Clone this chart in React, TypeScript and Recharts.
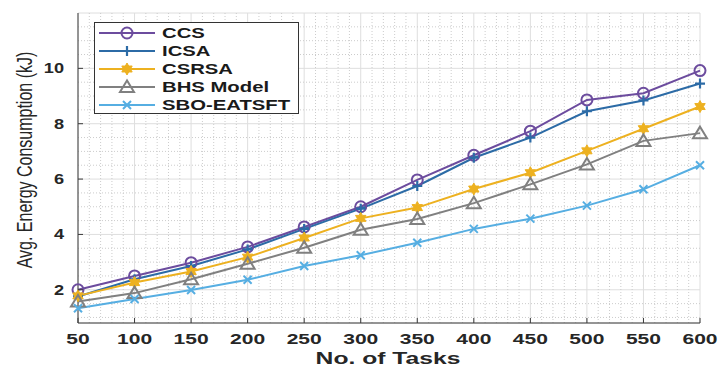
import React from 'react';
import { LineChart, Line, XAxis, YAxis, CartesianGrid, ReferenceLine } from 'recharts';

const TASKS = [50, 100, 150, 200, 250, 300, 350, 400, 450, 500, 550, 600];
const CCS = [2.0, 2.5, 2.98, 3.55, 4.27, 5.0, 5.97, 6.86, 7.73, 8.86, 9.1, 9.92];
const ICSA = [1.76, 2.38, 2.86, 3.46, 4.2, 4.93, 5.75, 6.77, 7.5, 8.45, 8.84, 9.45];
const CSRSA = [1.78, 2.26, 2.66, 3.18, 3.87, 4.58, 4.97, 5.64, 6.23, 7.02, 7.82, 8.62];
const BHS = [1.58, 1.88, 2.38, 2.94, 3.52, 4.17, 4.56, 5.13, 5.81, 6.53, 7.38, 7.66];
const SBO = [1.33, 1.67, 1.99, 2.36, 2.86, 3.25, 3.7, 4.2, 4.57, 5.04, 5.63, 6.5];
const Y_TICKS = [2, 4, 6, 8, 10];

const SERIES = [
  { key: 'CCS', name: 'CCS', color: '#6C4C9E', shape: 'circle' },
  { key: 'ICSA', name: 'ICSA', color: '#2C6BA6', shape: 'plus' },
  { key: 'CSRSA', name: 'CSRSA', color: '#EDB120', shape: 'hexagram' },
  { key: 'BHS', name: 'BHS Model', color: '#808080', shape: 'triangle' },
  { key: 'SBO', name: 'SBO-EATSFT', color: '#56AEE2', shape: 'cross' },
];

const data = TASKS.map((t, i) => ({
  tasks: t,
  CCS: CCS[i],
  ICSA: ICSA[i],
  CSRSA: CSRSA[i],
  BHS: BHS[i],
  SBO: SBO[i],
}));

// minor grid, MATLAB style
const minorX: number[] = [];
for (let v = 60; v < 600; v += 10) if (v % 50 !== 0) minorX.push(v);
const minorY: number[] = [];
for (let v = 1; v <= 11.5; v += 0.5) if (v % 2 !== 0) minorY.push(v);

const AXIS = '#3a3a3a';
const FONT = '"Liberation Sans", Arial, sans-serif';
const STRETCH = 1.45;

const Marker = ({ shape, cx, cy, color }: any) => {
  if (cx == null || cy == null) return null;
  if (shape === 'circle') {
    return <circle cx={cx} cy={cy} r={5.5} fill="none" stroke={color} strokeWidth={2} />;
  }
  if (shape === 'plus') {
    return (
      <path d={`M${cx - 5},${cy}H${cx + 5}M${cx},${cy - 5}V${cy + 5}`} stroke={color} strokeWidth={2.2} fill="none" />
    );
  }
  if (shape === 'hexagram') {
    const pts: string[] = [];
    for (let k = 0; k < 12; k++) {
      const r = k % 2 === 0 ? 6 : 3.4;
      const a = (Math.PI / 6) * k - Math.PI / 2;
      pts.push(`${cx + r * Math.cos(a)},${cy + r * Math.sin(a)}`);
    }
    return <polygon points={pts.join(' ')} fill={color} stroke={color} strokeWidth={1} />;
  }
  if (shape === 'triangle') {
    return (
      <polygon
        points={`${cx},${cy - 6.5} ${cx - 7},${cy + 5} ${cx + 7},${cy + 5}`}
        fill="none"
        stroke={color}
        strokeWidth={2}
      />
    );
  }
  return (
    <path d={`M${cx - 4},${cy - 4}L${cx + 4},${cy + 4}M${cx - 4},${cy + 4}L${cx + 4},${cy - 4}`} stroke={color} strokeWidth={2} fill="none" />
  );
};

const XTick = ({ x, y, payload }: any) => (
  <g>
    <line x1={x} y1={y} x2={x} y2={y - 5} stroke={AXIS} />
    <text
      transform={`translate(${x},${y + 21}) scale(${STRETCH},1)`}
      textAnchor="middle"
      fontFamily={FONT}
      fontWeight="bold"
      fontSize={14.5}
      fill="#262626"
    >
      {payload.value}
    </text>
  </g>
);

const YTick = ({ x, y, payload }: any) => (
  <g>
    <line x1={x} y1={y} x2={x + 5} y2={y} stroke={AXIS} />
    <text
      transform={`translate(${x - 14},${y + 5}) scale(1.3,1)`}
      textAnchor="end"
      fontFamily={FONT}
      fontWeight="bold"
      fontSize={14}
      fill="#262626"
    >
      {payload.value}
    </text>
  </g>
);

const TopTick = ({ x, y }: any) => <line x1={x} y1={y} x2={x} y2={y + 5} stroke={AXIS} />;
const RightTick = ({ x, y }: any) => <line x1={x} y1={y} x2={x - 5} y2={y} stroke={AXIS} />;

const LegendBox = () => (
  <svg width={206} height={93} style={{ position: 'absolute', left: 94, top: 22, display: 'block' }}>
    <rect x={0.5} y={0.5} width={204} height={91} fill="#fff" stroke="#333" strokeWidth={1} />
    {SERIES.map((s, i) => {
      const cy = 11 + i * 18;
      return (
        <g key={s.key}>
          <line x1={5} y1={cy} x2={61} y2={cy} stroke={s.color} strokeWidth={2} />
          <Marker shape={s.shape} cx={33} cy={cy} color={s.color} />
          <text
            transform={`translate(68,${cy + 5}) scale(${STRETCH},1)`}
            fontFamily={FONT}
            fontWeight="bold"
            fontSize={14}
            fill="#1a1a1a"
          >
            {s.name}
          </text>
        </g>
      );
    })}
  </svg>
);

export default function App() {
  return (
    <div style={{ position: 'absolute', left: 0, top: 0, width: 721, height: 369, background: '#fff' }}>
      <LineChart width={721} height={369} data={data} margin={{ top: 13, right: 21, bottom: 0, left: 0 }}>
        {minorX.map((v) => (
          <ReferenceLine key={`mx-${v}`} x={v} stroke="#cccccc" strokeDasharray="1 2" />
        ))}
        {minorY.map((v) => (
          <ReferenceLine key={`my-${v}`} y={v} stroke="#cccccc" strokeDasharray="1 2" />
        ))}
        <CartesianGrid stroke="#dedede" />
        <XAxis
          dataKey="tasks"
          type="number"
          domain={[50, 600]}
          ticks={TASKS}
          height={46}
          tickLine={false}
          tickSize={0}
          tickMargin={0}
          axisLine={{ stroke: AXIS }}
          tick={<XTick />}
          interval={0}
        />
        <XAxis
          xAxisId="top"
          dataKey="tasks"
          type="number"
          orientation="top"
          domain={[50, 600]}
          ticks={TASKS}
          height={0}
          tickLine={false}
          tickSize={0}
          axisLine={{ stroke: AXIS }}
          tick={<TopTick />}
          interval={0}
        />
        <YAxis
          type="number"
          domain={[0.8, 12]}
          ticks={Y_TICKS}
          width={78}
          tickLine={false}
          tickSize={0}
          tickMargin={0}
          axisLine={{ stroke: AXIS }}
          tick={<YTick />}
          interval={0}
          label={{
            content: () => (
              <g transform="translate(25,160) rotate(-90) scale(1,1.35)">
                <text
                  x={0}
                  y={0}
                  textAnchor="middle"
                  dominantBaseline="central"
                  fontFamily={FONT}
                  fontSize={16}
                  fill="#262626"
                >
                  Avg. Energy Consumption (kJ)
                </text>
              </g>
            ),
          }}
        />
        <YAxis
          yAxisId="right"
          type="number"
          orientation="right"
          domain={[0.8, 12]}
          ticks={Y_TICKS}
          width={0}
          tickLine={false}
          tickSize={0}
          axisLine={{ stroke: AXIS }}
          tick={<RightTick />}
          interval={0}
        />
        {SERIES.map((s) => (
          <Line
            key={s.key}
            dataKey={s.key}
            name={s.name}
            type="linear"
            stroke={s.color}
            strokeWidth={2}
            isAnimationActive={false}
            activeDot={false}
            dot={(p: any) => <Marker key={`${s.key}-${p.index}`} shape={s.shape} cx={p.cx} cy={p.cy} color={s.color} />}
          />
        ))}
      </LineChart>
      <LegendBox />
      <div
        style={{
          position: 'absolute',
          left: 388,
          top: 350,
          transform: `translateX(-50%) scaleX(${STRETCH})`,
          fontFamily: FONT,
          fontWeight: 'bold',
          fontSize: 17,
          color: '#262626',
          whiteSpace: 'nowrap',
          lineHeight: '17px',
        }}
      >
        No. of Tasks
      </div>
    </div>
  );
}
